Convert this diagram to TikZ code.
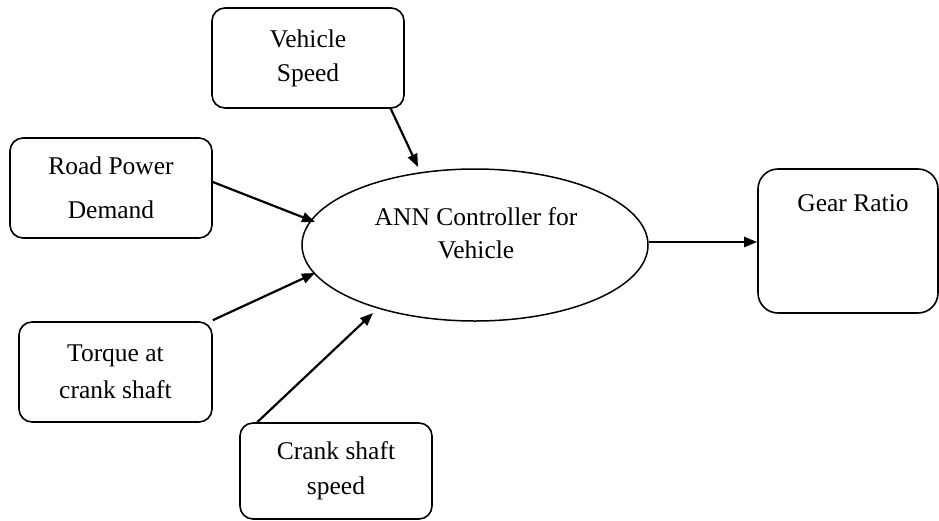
\documentclass[tikz,border=0pt]{standalone}
\usepackage{fontspec}
\setmainfont{Liberation Serif}
\usetikzlibrary{shapes.geometric,arrows.meta}
\begin{document}
\begin{tikzpicture}[x=1pt,y=-1pt,
  box/.style={draw,line width=1.6pt,rounded corners=13pt,inner sep=0pt,align=center,
    font=\fontsize{25.5}{34}\selectfont},
  txt/.style={inner sep=0pt,align=center,font=\fontsize{25.5}{33}\selectfont},
  arr/.style={line width=2.2pt,-{Triangle[length=13pt,width=10pt]}}]
\useasboundingbox (0,0) rectangle (939,520);
\fill[white] (0,0) rectangle (939,520);
% boxes
\node[box,minimum width=192pt,minimum height=100pt] (vs) at (308,58) {Vehicle\\Speed};
\node[box,minimum width=202pt,minimum height=100pt,font=\fontsize{25.5}{44}\selectfont] (rpd) at (111,188) {Road Power\\Demand};
\node[box,minimum width=193pt,minimum height=100pt,font=\fontsize{25.5}{37}\selectfont] (tq) at (115.5,372) {Torque at\\crank shaft};
\node[box,minimum width=192pt,minimum height=96pt,font=\fontsize{25.5}{35}\selectfont] (cs) at (336,471) {Crank shaft\\speed};
\node[box,rounded corners=20pt,minimum width=180pt,minimum height=144pt] (gr) at (848,241) {};
\node[txt] (grt) at (853,203.5) {Gear Ratio};
% ellipse
\node[ellipse,draw,line width=1.5pt,minimum width=346pt,minimum height=152pt,inner sep=0pt] (ell) at (475,245) {};
\node[txt] (ellt) at (476,233) {ANN Controller for\\Vehicle};
% arrow targets
\coordinate (t1) at (418,167);
\coordinate (t2) at (315,222);
\coordinate (t3) at (315,273);
\coordinate (t4) at (373,313);
% connectors
\draw[arr] ([xshift=-14pt]vs.south east) -- (t1);
\draw[arr] ([yshift=6pt]rpd.east) -- (t2);
\draw[arr] ([yshift=1pt]tq.north east) -- (t3);
\draw[arr] ([xshift=18pt]cs.north west) -- (t4);
\draw[arr] ([yshift=3pt]ell.east) -- ([yshift=-1pt]gr.west);
\end{tikzpicture}
\end{document}
